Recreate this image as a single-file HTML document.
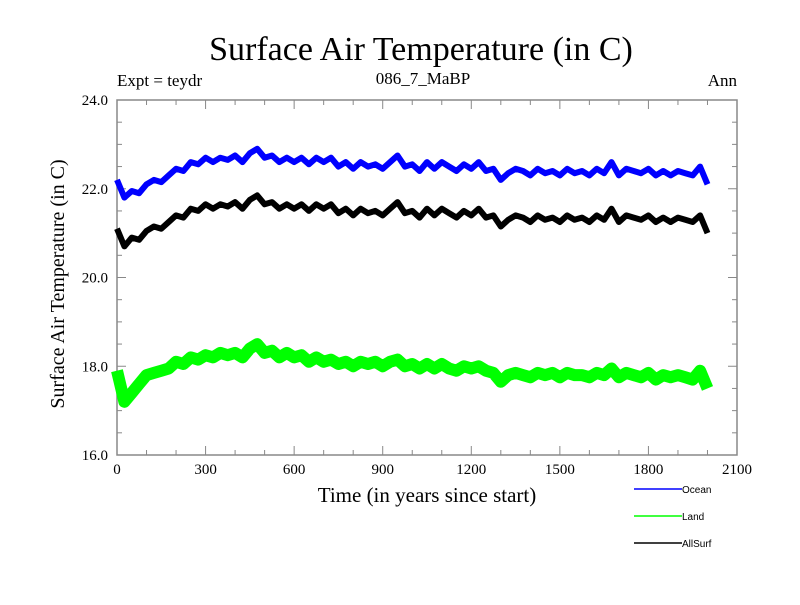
<!DOCTYPE html>
<html><head><meta charset="utf-8"><style>
body{margin:0;background:#fff}
svg text{font-family:"Liberation Serif",serif;fill:#000}
.lg{font-family:"Liberation Sans",sans-serif;font-size:10px}
</style></head><body>
<svg id="c" width="800" height="600" viewBox="0 0 800 600">
<text x="421" y="60" font-size="34" text-anchor="middle">Surface Air Temperature (in C)</text>
<text x="117" y="86" font-size="17">Expt = teydr</text>
<text x="423" y="84" font-size="17" text-anchor="middle">086_7_MaBP</text>
<text x="737" y="86" font-size="17" text-anchor="end">Ann</text>
<text x="427" y="502" font-size="21" text-anchor="middle">Time (in years since start)</text>
<text transform="translate(64,284) rotate(-90)" font-size="20" text-anchor="middle">Surface Air Temperature (in C)</text>
<g id="axes"></g>
<g id="series"></g>
<g id="legend"></g>
</svg>
<script>
const years=[];for(let i=0;i<=80;i++)years.push(i*25);
const ocean=[22.2,21.8,21.95,21.9,22.1,22.2,22.15,22.3,22.45,22.4,22.6,22.55,22.7,22.6,22.7,22.65,22.75,22.6,22.8,22.9,22.7,22.75,22.6,22.7,22.6,22.7,22.55,22.7,22.6,22.7,22.5,22.6,22.45,22.6,22.5,22.55,22.45,22.6,22.75,22.5,22.55,22.4,22.6,22.45,22.6,22.5,22.4,22.55,22.45,22.6,22.4,22.45,22.2,22.35,22.45,22.4,22.3,22.45,22.35,22.4,22.3,22.45,22.35,22.4,22.3,22.45,22.35,22.6,22.3,22.45,22.4,22.35,22.45,22.3,22.4,22.3,22.4,22.35,22.3,22.5,22.1];
const allsurf=[21.1,20.7,20.9,20.85,21.05,21.15,21.1,21.25,21.4,21.35,21.55,21.5,21.65,21.55,21.65,21.6,21.7,21.55,21.75,21.85,21.65,21.7,21.55,21.65,21.55,21.65,21.5,21.65,21.55,21.65,21.45,21.55,21.4,21.55,21.45,21.5,21.4,21.55,21.7,21.45,21.5,21.35,21.55,21.4,21.55,21.45,21.35,21.5,21.4,21.55,21.35,21.4,21.15,21.3,21.4,21.35,21.25,21.4,21.3,21.35,21.25,21.4,21.3,21.35,21.25,21.4,21.3,21.55,21.25,21.4,21.35,21.3,21.4,21.25,21.35,21.25,21.35,21.3,21.25,21.4,21.0];
const land=[17.9,17.2,17.4,17.6,17.8,17.85,17.9,17.95,18.1,18.05,18.2,18.15,18.25,18.2,18.3,18.25,18.3,18.2,18.4,18.5,18.3,18.35,18.2,18.3,18.2,18.25,18.1,18.2,18.1,18.15,18.05,18.1,18.0,18.1,18.05,18.1,18.0,18.1,18.15,18.0,18.05,17.95,18.05,17.95,18.05,17.95,17.9,18.0,17.95,18.0,17.9,17.85,17.65,17.8,17.85,17.8,17.75,17.85,17.8,17.85,17.75,17.85,17.8,17.8,17.75,17.85,17.8,17.95,17.75,17.85,17.8,17.75,17.85,17.7,17.8,17.75,17.8,17.75,17.7,17.9,17.5];
const xTicks=[0,300,600,900,1200,1500,1800,2100];
const yTicks=[16,18,20,22,24];
const yLabels=["16.0","18.0","20.0","22.0","24.0"];
const L=117,R=737,T=100,B=455;
const X=v=>L+(v/2100)*(R-L), Y=v=>B-(v-16)/8*(B-T);
const NS="http://www.w3.org/2000/svg";
function mk(tag,attrs,parent){const e=document.createElementNS(NS,tag);for(const k in attrs)e.setAttribute(k,attrs[k]);parent.appendChild(e);return e;}
const ax=document.getElementById('axes');
const frame=mk('rect',{x:L,y:T,width:R-L,height:B-T,fill:'none',stroke:'#888','stroke-width':1.5},ax);


for(let v=0;v<=2100;v+=100){const x=X(v),len=v%300===0?9:5;
 mk('line',{x1:x,y1:B,x2:x,y2:B-len,stroke:'#888'},ax);mk('line',{x1:x,y1:T,x2:x,y2:T+len,stroke:'#888'},ax);}
for(let v=16;v<=24.001;v+=0.5){const y=Y(v),len=Math.abs(v%2)<0.01?9:5;
 mk('line',{x1:L,y1:y,x2:L+len,y2:y,stroke:'#888'},ax);mk('line',{x1:R,y1:y,x2:R-len,y2:y,stroke:'#888'},ax);}
xTicks.forEach(v=>{const t=mk('text',{x:X(v),y:474,'font-size':15,'text-anchor':'middle'},ax);t.textContent=v;
 
 });
yTicks.forEach((v,i)=>{const t=mk('text',{x:108,y:Y(v)+5,'font-size':15,'text-anchor':'end'},ax);t.textContent=yLabels[i];
 
 });
const sg=document.getElementById('series');
function line(vals,color,w,name){const d=vals.map((v,i)=>(i?'L':'M')+X(years[i]).toFixed(1)+','+Y(v).toFixed(1)).join('');
 const p=mk('path',{d:d,fill:'none',stroke:color,'stroke-width':w,'stroke-linejoin':'round'},sg);
 
 }
line(ocean,'#0000ff',6,'ocean-line');
line(land,'#00ff00',12,'land-line');
line(allsurf,'#000000',6,'allsurf-line');
const lg=document.getElementById('legend');
[['Ocean','#0000ff',489],['Land','#00ff00',516],['AllSurf','#000',543]].forEach(([n,c,y])=>{
 const g=mk('g',{},lg);
 
 
 mk('line',{x1:634,y1:y,x2:682,y2:y,stroke:c,'stroke-width':1.5},g);
 const t=mk('text',{x:682,y:y+4,class:'lg'},g);t.textContent=n;});
</script>
</body></html>
